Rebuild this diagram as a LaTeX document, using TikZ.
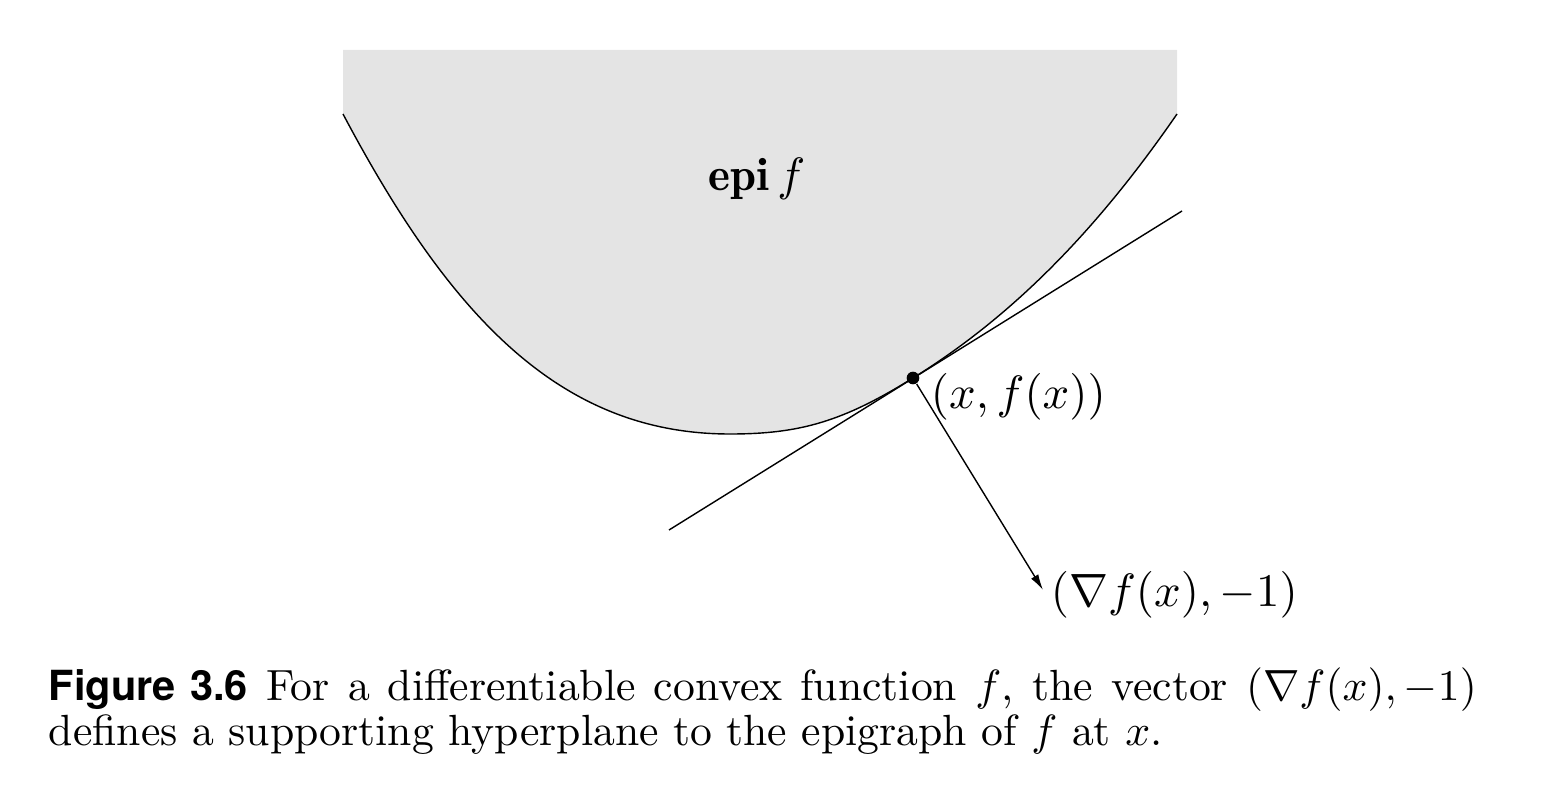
\documentclass[tikz,border=0pt]{standalone}
\usepackage{fontspec}
\usetikzlibrary{arrows.meta}
\newfontfamily\figfont[Scale=0.95]{TeX Gyre Heros}
\definecolor{epigray}{RGB}{228,228,228}

\begin{document}
\begin{tikzpicture}[lbl/.style={inner sep=0pt, scale=1.33}]
      \useasboundingbox (0,0) rectangle (15.44,7.96);
      \coordinate (A) at (3.43,6.82);
      \coordinate (M) at (7.30,3.62);
      \coordinate (T) at (9.13,4.18);
      \coordinate (B) at (11.77,6.82);
      \coordinate (tanL) at (6.69,2.66);
      \coordinate (tanR) at (11.82,5.85);
      \fill[epigray] (3.43,7.46) -- (A) .. controls (4.5,4.8) and (5.6,3.62) .. (M)
            .. controls (8.0,3.62) and (8.43,3.745) .. (T)
            .. controls (10.13,4.80) and (10.97,5.66) .. (B) -- (11.77,7.46) -- cycle;
      \draw (A) .. controls (4.5,4.8) and (5.6,3.62) .. (M)
            .. controls (8.0,3.62) and (8.43,3.745) .. (T)
            .. controls (10.13,4.80) and (10.97,5.66) .. (B);
      \draw (tanL) -- (tanR);
      \node[circle, fill, inner sep=0pt, minimum size=3.6pt] (pt) at (T) {};
      \node[lbl, anchor=base] (epilabel) at (7.57,6.05) {$\mathbf{epi}\,f$};
      \node[lbl, anchor=base west] (ptlabel) at (9.30,3.88) {$(x,f(x))$};
      \node[lbl, anchor=base west] (gradlabel) at (10.50,1.90) {$(\nabla f(x),-1)$};
      \coordinate (gradtip) at (10.43,2.06);
      \draw[-{Latex[length=4.5pt,width=2.4pt]}] (pt) -- (gradtip);
      \node[anchor=base west, inner sep=0pt, scale=1.135, font=\fontsize{10.95}{11.3}\selectfont] (caption) at (0.48,0.96)
            {\parbox[t]{12.581cm}{{\figfont\bfseries Figure 3.6} For a differentiable convex function $f$, the vector $(\nabla f(x),-1)$\linebreak defines a supporting hyperplane to the epigraph of $f$ at $x$.}};
    \end{tikzpicture}
\end{document}
